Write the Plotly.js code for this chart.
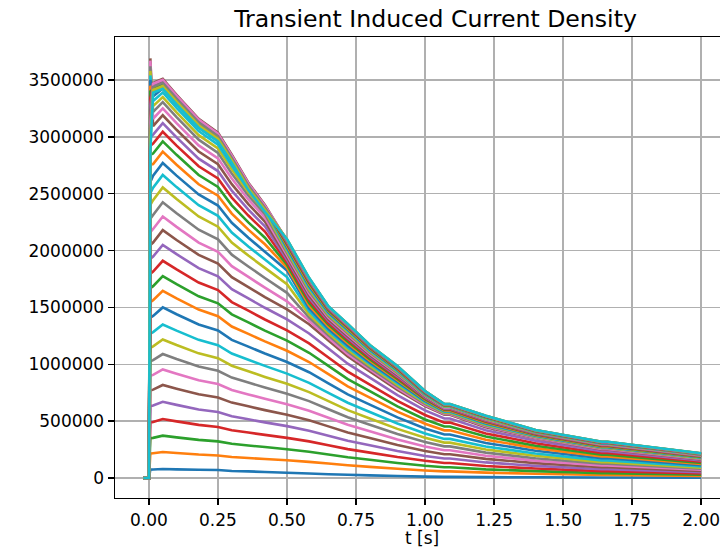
<!DOCTYPE html>
<html><head><meta charset="utf-8">
<script src="https://cdn.plot.ly/plotly-3.0.1.min.js"></script>
<style>html,body{margin:0;padding:0;overflow:hidden;background:#fff}</style>
</head><body><div id="chart" style="width:800px;height:548px"></div>
<script>
// time samples [s]
const tSeconds = [-0.02, 0, 0.005, 0.015, 0.05, 0.1, 0.18, 0.25, 0.3, 0.36, 0.42, 0.5, 0.58, 0.65, 0.72, 0.8, 0.9, 1.0, 1.07, 1.09, 1.22, 1.4, 1.64, 1.66, 2.0];

// induced current density per probe position (A/m^2)
const j00 = [0,0,74e3,75e3,79e3,76e3,72e3,70e3,62e3,58e3,53e3,46e3,39e3,33e3,28e3,23e3,17e3,12e3,10e3,10e3,8e3,6e3,4e3,4e3,3e3];
const j01 = [0,0,215e3,218e3,229e3,220e3,206e3,198e3,185e3,176e3,167e3,156e3,142e3,127e3,112e3,98e3,81e3,66e3,58e3,58e3,47e3,37e3,26e3,26e3,17e3];
const j02 = [0,0,350e3,353e3,372e3,357e3,335e3,322e3,301e3,286e3,272e3,253e3,231e3,206e3,182e3,160e3,132e3,108e3,95e3,95e3,76e3,60e3,43e3,43e3,28e3];
const j03 = [0,0,488e3,493e3,519e3,498e3,467e3,449e3,420e3,400e3,379e3,353e3,322e3,288e3,254e3,223e3,184e3,151e3,132e3,132e3,106e3,83e3,60e3,60e3,39e3];
const j04 = [0,0,630e3,637e3,670e3,643e3,603e3,580e3,543e3,516e3,489e3,456e3,415e3,372e3,328e3,288e3,238e3,194e3,171e3,171e3,137e3,107e3,77e3,77e3,50e3];
const j05 = [0,0,769e3,777e3,818e3,785e3,736e3,708e3,663e3,630e3,597e3,556e3,507e3,454e3,401e3,352e3,290e3,237e3,209e3,209e3,168e3,131e3,94e3,94e3,61e3];
const j06 = [0,0,898e3,907e3,955e3,917e3,860e3,826e3,774e3,735e3,697e3,649e3,592e3,530e3,468e3,411e3,339e3,277e3,244e3,244e3,196e3,153e3,110e3,110e3,72e3];
const j07 = [0,0,1025e3,1036e3,1090e3,1046e3,981e3,943e3,883e3,839e3,796e3,741e3,676e3,605e3,534e3,469e3,387e3,316e3,278e3,278e3,223e3,174e3,125e3,125e3,82e3];
const j08 = [0,0,1145e3,1157e3,1218e3,1169e3,1096e3,1054e3,987e3,938e3,889e3,828e3,755e3,676e3,597e3,524e3,432e3,353e3,311e3,311e3,250e3,195e3,140e3,140e3,91e3];
const j09 = [0,0,1269e3,1283e3,1350e3,1296e3,1215e3,1168e3,1094e3,1040e3,986e3,918e3,837e3,749e3,662e3,581e3,479e3,392e3,344e3,344e3,277e3,216e3,155e3,155e3,101e3];
const j10 = [0,0,1410e3,1425e3,1500e3,1440e3,1350e3,1298e3,1215e3,1155e3,1095e3,1020e3,930e3,833e3,735e3,645e3,533e3,435e3,383e3,383e3,308e3,240e3,173e3,173e3,113e3];
const j11 = [0,0,1546e3,1563e3,1645e3,1579e3,1481e3,1423e3,1332e3,1267e3,1201e3,1119e3,1020e3,913e3,806e3,707e3,584e3,477e3,419e3,419e3,337e3,263e3,189e3,189e3,123e3];
const j12 = [0,0,1669e3,1687e3,1776e3,1705e3,1598e3,1536e3,1439e3,1368e3,1296e3,1208e3,1101e3,986e3,870e3,764e3,630e3,515e3,453e3,453e3,364e3,284e3,204e3,204e3,133e3];
const j13 = [0,0,1795e3,1815e3,1910e3,1834e3,1719e3,1652e3,1547e3,1471e3,1394e3,1299e3,1184e3,1060e3,936e3,821e3,678e3,554e3,487e3,487e3,392e3,306e3,220e3,220e3,143e3];
const j14 = [0,0,1927e3,1948e3,2050e3,1968e3,1845e3,1773e3,1661e3,1579e3,1497e3,1394e3,1271e3,1138e3,1005e3,882e3,728e3,595e3,523e3,523e3,420e3,328e3,236e3,236e3,154e3];
const j15 = [0,0,2049e3,2071e3,2180e3,2093e3,1962e3,1886e3,1766e3,1679e3,1591e3,1482e3,1352e3,1210e3,1068e3,937e3,774e3,632e3,556e3,556e3,447e3,349e3,251e3,251e3,164e3];
const j16 = [0,0,2162e3,2190e3,2300e3,2208e3,2070e3,1990e3,1863e3,1768e3,1674e3,1554e3,1382e3,1232e3,1089e3,954e3,790e3,642e3,563e3,563e3,454e3,354e3,256e3,256e3,168e3];
const j17 = [0,0,2280e3,2313e3,2425e3,2328e3,2183e3,2098e3,1964e3,1860e3,1759e3,1628e3,1411e3,1254e3,1110e3,971e3,805e3,651e3,570e3,570e3,462e3,360e3,261e3,261e3,172e3];
const j18 = [0,0,2402e3,2443e3,2555e3,2453e3,2300e3,2210e3,2070e3,1956e3,1848e3,1705e3,1439e3,1274e3,1129e3,987e3,819e3,660e3,576e3,576e3,469e3,365e3,266e3,266e3,175e3];
const j19 = [0,0,2505e3,2553e3,2665e3,2558e3,2399e3,2305e3,2159e3,2036e3,1921e3,1767e3,1466e3,1294e3,1148e3,1002e3,833e3,669e3,583e3,583e3,475e3,369e3,270e3,270e3,179e3];
const j20 = [0,0,2604e3,2659e3,2770e3,2659e3,2493e3,2396e3,2244e3,2112e3,1990e3,1825e3,1492e3,1313e3,1166e3,1017e3,846e3,678e3,589e3,589e3,482e3,374e3,274e3,274e3,182e3];
const j21 = [0,0,2755e3,2761e3,2870e3,2755e3,2583e3,2483e3,2325e3,2184e3,2055e3,1851e3,1517e3,1331e3,1184e3,1031e3,859e3,686e3,594e3,594e3,488e3,378e3,278e3,278e3,185e3];
const j22 = [0,0,2842e3,2853e3,2960e3,2842e3,2664e3,2560e3,2398e3,2248e3,2113e3,1875e3,1540e3,1349e3,1201e3,1045e3,871e3,693e3,600e3,600e3,494e3,383e3,282e3,282e3,188e3];
const j23 = [0,0,2923e3,2941e3,3045e3,2923e3,2741e3,2634e3,2466e3,2308e3,2167e3,1898e3,1563e3,1365e3,1217e3,1058e3,883e3,701e3,605e3,605e3,499e3,387e3,286e3,286e3,191e3];
const j24 = [0,0,2995e3,3020e3,3120e3,2995e3,2808e3,2699e3,2527e3,2360e3,2213e3,1920e3,1585e3,1381e3,1232e3,1070e3,894e3,708e3,610e3,610e3,505e3,391e3,290e3,290e3,194e3];
const j25 = [0,0,3690e3,3094e3,3190e3,3062e3,2871e3,2759e3,2584e3,2408e3,2255e3,1941e3,1605e3,1396e3,1246e3,1082e3,905e3,715e3,615e3,615e3,510e3,394e3,293e3,293e3,197e3];
const j26 = [0,0,3670e3,3159e3,3250e3,3120e3,2925e3,2811e3,2633e3,2449e3,2290e3,1961e3,1625e3,1410e3,1260e3,1093e3,915e3,721e3,619e3,619e3,514e3,398e3,296e3,296e3,199e3];
const j27 = [0,0,3620e3,3219e3,3305e3,3173e3,2975e3,2859e3,2677e3,2485e3,2321e3,1980e3,1643e3,1424e3,1273e3,1103e3,924e3,727e3,624e3,624e3,519e3,401e3,299e3,299e3,202e3];
const j28 = [0,0,3580e3,3270e3,3350e3,3216e3,3015e3,2898e3,2714e3,2514e3,2345e3,1997e3,1660e3,1436e3,1284e3,1113e3,933e3,732e3,628e3,628e3,523e3,404e3,302e3,302e3,204e3];
const j29 = [0,0,3540e3,3315e3,3390e3,3254e3,3051e3,2932e3,2746e3,2539e3,2366e3,2013e3,1676e3,1448e3,1296e3,1122e3,941e3,737e3,631e3,631e3,527e3,407e3,305e3,305e3,206e3];
const j30 = [0,0,3500e3,3357e3,3425e3,3288e3,3083e3,2963e3,2774e3,2560e3,2382e3,2028e3,1690e3,1459e3,1306e3,1130e3,949e3,742e3,635e3,635e3,531e3,410e3,307e3,307e3,208e3];
const j31 = [0,0,3450e3,3390e3,3452e3,3314e3,3107e3,2986e3,2796e3,2570e3,2380e3,2042e3,1704e3,1469e3,1315e3,1138e3,956e3,747e3,638e3,638e3,534e3,412e3,310e3,310e3,210e3];
const j32 = [0,0,3400e3,3418e3,3474e3,3335e3,3127e3,3005e3,2814e3,2578e3,2384e3,2054e3,1716e3,1477e3,1324e3,1145e3,962e3,751e3,641e3,641e3,537e3,414e3,312e3,312e3,211e3];
const j33 = [0,0,3340e3,3441e3,3490e3,3350e3,3141e3,3019e3,2827e3,2584e3,2388e3,2065e3,1727e3,1485e3,1331e3,1151e3,968e3,754e3,643e3,643e3,540e3,416e3,313e3,313e3,213e3];
const j34 = [0,0,3270e3,3460e3,3502e3,3362e3,3152e3,3029e3,2837e3,2589e3,2392e3,2075e3,1736e3,1492e3,1338e3,1156e3,973e3,757e3,645e3,645e3,542e3,418e3,315e3,315e3,214e3];
const j35 = [0,0,3200e3,3475e3,3510e3,3370e3,3159e3,3036e3,2843e3,2597e3,2401e3,2084e3,1744e3,1498e3,1344e3,1161e3,977e3,760e3,647e3,647e3,544e3,419e3,316e3,316e3,215e3];
const j36 = [0,0,3120e3,3467e3,3502e3,3362e3,3151e3,3028e3,2835e3,2590e3,2394e3,2090e3,1750e3,1503e3,1348e3,1164e3,980e3,762e3,649e3,649e3,546e3,420e3,317e3,317e3,216e3];
const j37 = [0,0,3040e3,3440e3,3475e3,3336e3,3127e3,3006e3,2815e3,2571e3,2377e3,2095e3,1756e3,1507e3,1352e3,1167e3,983e3,764e3,650e3,650e3,547e3,421e3,318e3,318e3,216e3];
const j38 = [0,0,2960e3,3412e3,3447e3,3309e3,3102e3,2981e3,2792e3,2550e3,2358e3,2099e3,1759e3,1509e3,1354e3,1169e3,984e3,765e3,651e3,651e3,548e3,422e3,319e3,319e3,217e3];
const j39 = [0,0,2870e3,3388e3,3422e3,3286e3,3080e3,2960e3,2772e3,2532e3,2341e3,2100e3,1760e3,1510e3,1355e3,1170e3,985e3,765e3,651e3,651e3,548e3,422e3,319e3,319e3,217e3];

const xTickVals = [0, 0.25, 0.5, 0.75, 1.0, 1.25, 1.5, 1.75, 2.0];
const xTickText = ['0.00','0.25','0.50','0.75','1.00','1.25','1.50','1.75','2.00'];
const yTickVals = [0, 500000, 1000000, 1500000, 2000000, 2500000, 3000000, 3500000];
const yTickText = ['0','500000','1000000','1500000','2000000','2500000','3000000','3500000'];

const series = [j00,j01,j02,j03,j04,j05,j06,j07,j08,j09,j10,j11,j12,j13,j14,j15,j16,j17,j18,j19,
                j20,j21,j22,j23,j24,j25,j26,j27,j28,j29,j30,j31,j32,j33,j34,j35,j36,j37,j38,j39];
const palette = ['#1f77b4','#ff7f0e','#2ca02c','#d62728','#9467bd','#8c564b','#e377c2','#7f7f7f','#bcbd22','#17becf'];

const traces = series.map((vals, i) => ({
  x: tSeconds, y: vals, type: 'scatter', mode: 'lines',
  line: {color: palette[i % 10], width: 2.6, simplify: false},
  showlegend: false, hoverinfo: 'skip'
}));

const W = 800;
const axisCommon = {
  showgrid: true, gridcolor: '#b0b0b0', gridwidth: 1.5,
  zeroline: false, showline: true, mirror: true, linecolor: '#000', linewidth: 1.4,
  ticks: 'outside', ticklen: 6, tickwidth: 1.4, tickcolor: '#000',
  tickfont: {family: 'DejaVu Sans', size: 17, color: '#000'},
  automargin: false
};
const layout = {
  width: W, height: 548,
  margin: {l: 115, r: 71, t: 37, b: 50, pad: 0},
  paper_bgcolor: '#fff', plot_bgcolor: '#fff',
  font: {family: 'DejaVu Sans', size: 17, color: '#000'},
  title: {text: 'Transient Induced Current Density', font: {family: 'DejaVu Sans', size: 23.6, color: '#000'},
          x: 435.5 / W, xref: 'container', xanchor: 'center', y: 1 - 18.5 / 548, yref: 'container', yanchor: 'middle'},
  xaxis: Object.assign({}, axisCommon, {range: [-0.123, 2.101], tickmode: 'array', tickvals: xTickVals, ticktext: xTickText}),
  yaxis: Object.assign({}, axisCommon, {range: [-175900, 3878000], tickmode: 'array', tickvals: yTickVals, ticktext: yTickText}),
  annotations: [{
    text: 't [s]', xref: 'paper', x: 0.5, xanchor: 'center',
    yref: 'paper', y: -39.5 / 461, yanchor: 'middle', showarrow: false,
    font: {family: 'DejaVu Sans', size: 17, color: '#000'}
  }]
};
Plotly.newPlot('chart', traces, layout, {staticPlot: true, displayModeBar: false});
</script>
</body></html>
